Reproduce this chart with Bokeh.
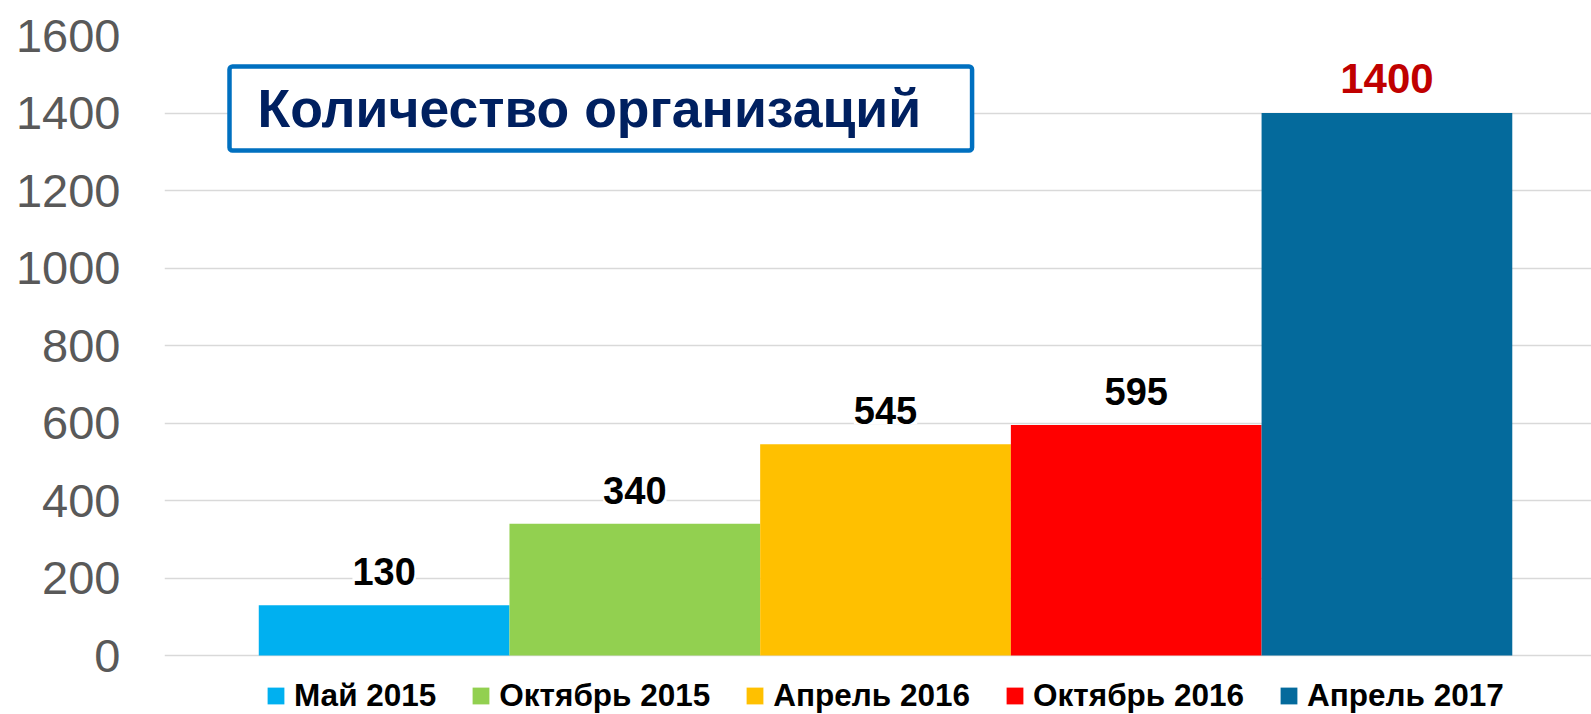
from bokeh.plotting import figure
from bokeh.models import ColumnDataSource, Legend, LegendItem, Label, LabelSet, Range1d, FixedTicker
from bokeh.core.properties import value
from bokeh.embed import file_html
from bokeh.resources import INLINE

# ---- data ----
categories = ["Май 2015", "Октябрь 2015", "Апрель 2016", "Октябрь 2016", "Апрель 2017"]
counts = [130, 340, 545, 595, 1400]
bar_colors = ["#00B0F0", "#92D050", "#FFC000", "#FF0000", "#046A9C"]
label_colors = ["#000000", "#000000", "#000000", "#000000", "#C00000"]
label_sizes = ["38px", "38px", "38px", "38px", "42px"]
y_ticks = [0, 200, 400, 600, 800, 1000, 1200, 1400, 1600]
title_text = "Количество организаций"

FONT = "Liberation Sans"

xs = [i + 1 for i in range(len(categories))]
src = ColumnDataSource(dict(
    x=xs, top=counts, color=bar_colors, cat=categories,
    lbl=[str(c) for c in counts], lcol=label_colors, lsize=label_sizes,
))

# frame extends below 0 so the legend can sit inside it, under the axis
p = figure(width=1591, height=714, output_backend="svg", toolbar_location=None,
           x_range=Range1d(0.124, 5.816), y_range=Range1d(-152, 1600),
           min_border_left=164, min_border_right=0, min_border_top=35, min_border_bottom=0)
p.outline_line_color = None
p.background_fill_color = "white"
p.border_fill_color = "white"

p.xaxis.visible = False
p.xgrid.visible = False

yax = p.yaxis[0]
yax.ticker = FixedTicker(ticks=y_ticks)
yax.axis_line_color = None
yax.major_tick_line_color = None
yax.minor_tick_line_color = None
yax.major_tick_out = 0
yax.major_tick_in = 0
yax.major_label_text_font = FONT
yax.major_label_text_font_size = "47px"
yax.major_label_text_color = "#595959"
yax.major_label_standoff = 44

p.ygrid.grid_line_color = "#D9D9D9"
p.ygrid.grid_line_width = 1.5

bars = p.vbar(x="x", top="top", bottom=0, width=1.0, fill_color="color", line_color=None, source=src)

labels = LabelSet(x="x", y="top", text="lbl", source=src,
                  text_font=value(FONT), text_font_style="bold",
                  text_font_size="lsize", text_color="lcol",
                  text_align="center", text_baseline="alphabetic", y_offset=20,
                  background_fill_color="white")
p.add_layout(labels)

title = Label(x=65, y=648, x_units="screen", y_units="screen", text=title_text,
              anchor="top_left",
              text_font=FONT, text_font_style="bold", text_font_size="53.5px",
              text_color="#002060",
              background_fill_color="white",
              border_line_color="#0070C0", border_line_width=4.5,
              border_radius=3,
              padding=dict(left=28, right=51, top=12, bottom=13))
p.add_layout(title)

items = [LegendItem(label=c, renderers=[bars], index=i) for i, c in enumerate(categories)]
legend = Legend(items=items, orientation="horizontal", location=(101, 0),
                label_text_font=FONT, label_text_font_style="bold",
                label_text_font_size="31.5px", label_text_color="#000000",
                glyph_width=21, glyph_height=21, label_standoff=8, spacing=34,
                padding=0, margin=0, border_line_color=None, background_fill_alpha=0)
p.add_layout(legend)

open("out.html", "w").write(file_html(p, INLINE))
